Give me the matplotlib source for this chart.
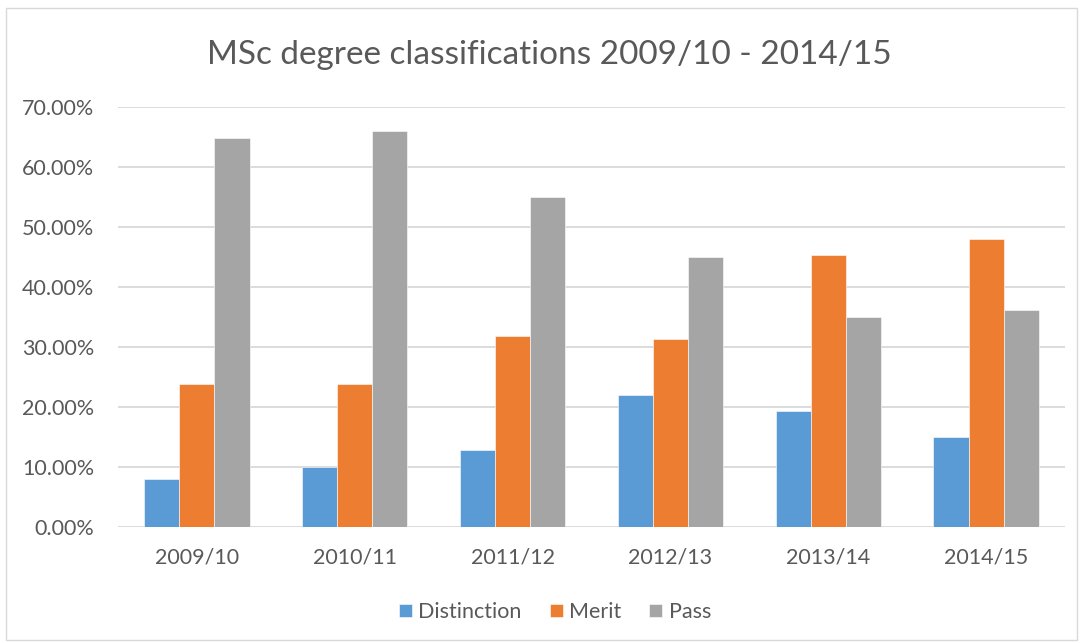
import matplotlib
matplotlib.use("Agg")
import matplotlib.pyplot as plt
import numpy as np
from matplotlib.ticker import FuncFormatter
from matplotlib.patches import Rectangle

years = ["2009/10", "2010/11", "2011/12", "2012/13", "2013/14", "2014/15"]
distinction = [8.0, 10.0, 12.9, 22.0, 19.4, 15.0]
merit = [23.9, 23.9, 31.9, 31.4, 45.4, 48.0]
pass_ = [64.9, 66.0, 55.0, 45.0, 35.0, 36.2]
series_names = ["Distinction", "Merit", "Pass"]
colors = ["#5B9BD5", "#ED7D31", "#A5A5A5"]

plt.rcParams['font.family'] = ['Lato', 'DejaVu Sans']
txt = "#595959"

W, H = 1082, 643
fig = plt.figure(figsize=(W/100, H/100), dpi=100)
fig.patch.set_facecolor("white")

# chart border
fig.add_artist(Rectangle((6/W, 1 - 640/H), (1077-6)/W, (640-8)/H,
                         transform=fig.transFigure, fill=False,
                         edgecolor="#D9D9D9", linewidth=1))

ax = fig.add_axes([118/W, 1 - 527/H, (1065-118)/W, (527-107)/H])
x = np.arange(len(years))
bw = 0.667 / 3
for i, (vals, name, c) in enumerate(zip([distinction, merit, pass_], series_names, colors)):
    ax.bar(x + (i - 1) * bw, vals, width=bw, color=c, label=name,
           edgecolor="white", linewidth=0.4, zorder=3)

ax.set_xlim(-0.5, len(years) - 0.5)
ax.set_ylim(0, 70)
ax.set_yticks(np.arange(0, 71, 10))
ax.yaxis.set_major_formatter(FuncFormatter(lambda v, p: f"{v:.2f}%"))
ax.set_xticks(x)
ax.set_xticklabels(years)
ax.grid(axis="y", color="#D9D9D9", linewidth=1.3, zorder=0)
for s in ["top", "right", "left", "bottom"]:
    ax.spines[s].set_visible(False)
ax.tick_params(axis="both", length=0, labelsize=15.5, colors=txt)
ax.tick_params(axis="y", pad=17)
ax.tick_params(axis="x", pad=15)

fig.text(549/W, 1 - 55/H, "MSc degree classifications 2009/10 - 2014/15",
         ha="center", va="center", fontsize=24, color=txt)

leg = fig.legend(loc="center", bbox_to_anchor=(555/W, 1 - 612/H), ncol=3,
                 frameon=False, fontsize=15.5, handlelength=0.6, handleheight=0.6,
                 handletextpad=0.3, columnspacing=1.3)
for t in leg.get_texts():
    t.set_color(txt)

fig.savefig("out.png", dpi=100, facecolor="white")
